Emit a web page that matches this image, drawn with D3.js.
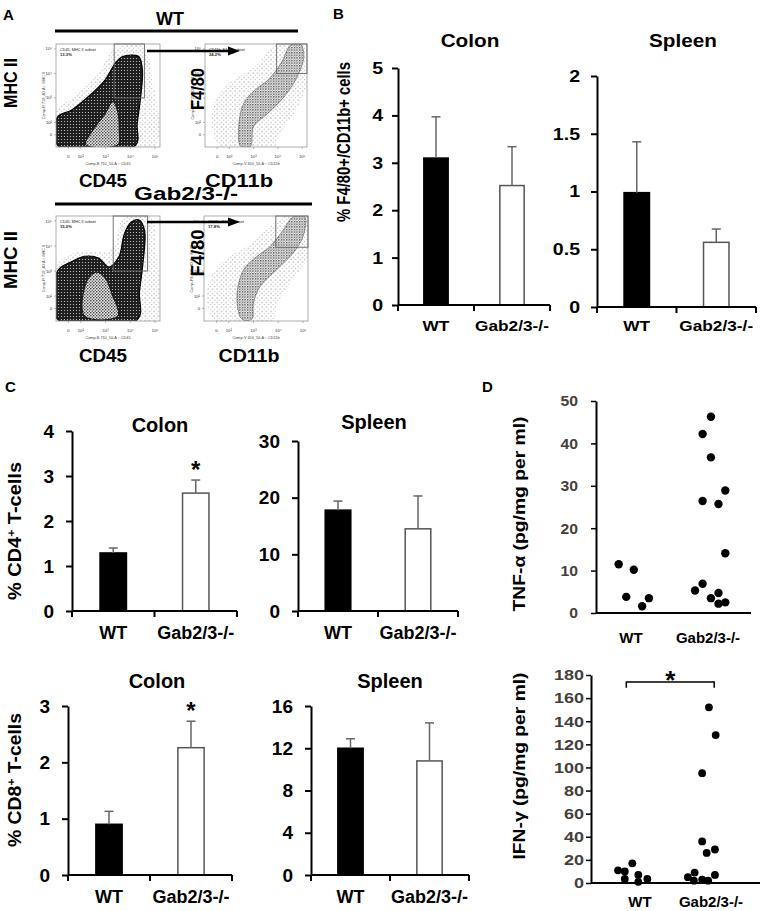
<!DOCTYPE html>
<html>
<head>
<meta charset="utf-8">
<script src="https://cdn.jsdelivr.net/npm/d3@7"></script>
<style>
  body { margin: 0; background: #fff; }
  text { font-family: "Liberation Sans", Arial, sans-serif; font-weight: bold; }
</style>
</head>
<body>
<svg id="chart" width="765" height="911"></svg>
<script>
// ================= data =================
var groups = ["WT", "Gab2/3-/-"];

// B : % F4/80+/CD11b+ cells (mean, error)
var f480ColonMean  = [3.10, 2.52];
var f480ColonErr   = [0.87, 0.82];
var f480ColonTicks = [0, 1, 2, 3, 4, 5];
var f480SpleenMean  = [0.99, 0.56];
var f480SpleenErr   = [0.44, 0.115];
var f480SpleenTicks = [0, 0.5, 1, 1.5, 2];

// C : % CD4+ / CD8+ T-cells
var cd4ColonMean  = [1.29, 2.62];
var cd4ColonErr   = [0.11, 0.29];
var cd4ColonTicks = [0, 1, 2, 3, 4];
var cd4SpleenMean  = [17.8, 14.5];
var cd4SpleenErr   = [1.6, 5.8];
var cd4SpleenTicks = [0, 10, 20, 30];
var cd8ColonMean  = [0.90, 2.26];
var cd8ColonErr   = [0.23, 0.47];
var cd8ColonTicks = [0, 1, 2, 3];
var cd8SpleenMean  = [12.0, 10.8];
var cd8SpleenErr   = [0.9, 3.6];
var cd8SpleenTicks = [0, 4, 8, 12, 16];

// D : cytokines, one dot per mouse (value, jitter position)
var tnfWT     = [11.5, 10.2, 3.8, 3.5, 1.6];
var tnfWTPos  = [0.80, 1.00, 0.90, 1.20, 1.11];
var tnfGab    = [46.3, 42.2, 36.7, 28.9, 26.4, 25.7, 14.1, 6.9, 5.3, 4.7, 3.5, 2.2, 2.5];
var tnfGabPos = [2.02, 1.91, 2.02, 2.21, 1.91, 2.12, 2.21, 1.91, 1.81, 2.12, 2.02, 2.12, 2.21];
var tnfTicks  = [0, 10, 20, 30, 40, 50];
var ifnWT     = [11, 10, 17, 7, 3.5, 1, 3.5];
var ifnWTPos  = [0.86, 0.95, 1.05, 1.13, 0.95, 1.13, 1.25];
var ifnGab    = [5, 9, 2, 3, 2, 7, 36, 26, 29, 152, 128, 95];
var ifnGabPos = [1.79, 1.88, 1.87, 1.98, 2.06, 2.15, 1.98, 2.04, 2.15, 2.07, 2.16, 1.98];
var ifnTicks  = [0, 20, 40, 60, 80, 100, 120, 140, 160, 180];
var ifnBracket = [0.97, 2.14];

// A : flow plots, outlines of the cell clouds in decade units
var flowTickVals  = [1.5, 2, 3, 4, 5];
var flowTickNames = ["0", "10\u00B2", "10\u00B3", "10\u2074", "10\u2075"];
var wtCd45Sparse = [[1.0,1.0],[1.0,2.5],[1.75,3.05],[2.71,4.0],[3.33,4.96],[4.49,5.16],[4.9,3.73],[4.97,1.0]];
var wtCd45Dense  = [[1.07,1.07],[1.07,2.23],[1.62,2.5],[2.3,3.05],[2.98,3.73],[3.39,4.41],[3.67,4.68],[4.08,4.75],[4.35,4.68],[4.49,4.14],[4.42,3.05],[4.28,1.95],[4.21,1.07]];
var wtCd45Hole   = [[2.2,1.1],[2.5,1.7],[2.95,2.3],[3.3,2.85],[3.5,2.4],[3.55,1.7],[3.5,1.1]];
var wtCd11bSparse = [[1.6,1.0],[1.33,2.65],[2.0,3.6],[3.07,4.28],[4.0,5.2],[5.2,5.2],[5.2,3.6],[4.67,2.38],[4.0,1.43],[3.87,1.0]];
var wtCd11bDense  = [[2.47,1.03],[2.4,1.98],[2.6,2.79],[3.07,3.33],[3.6,3.74],[4.13,4.41],[4.53,5.16],[4.93,5.2],[5.07,4.69],[4.8,3.87],[4.27,3.06],[3.6,2.38],[3.0,1.84],[2.87,1.03]];
var gabCd45Sparse = [[1.0,1.0],[1.0,3.16],[1.76,3.73],[3.27,3.88],[3.69,5.1],[4.79,5.17],[5.06,3.59],[5.06,1.0]];
var gabCd45Dense  = [[1.07,1.07],[1.07,3.01],[1.62,3.37],[2.17,3.59],[2.72,3.52],[3.13,3.16],[3.55,3.59],[3.75,4.45],[4.03,4.95],[4.37,5.03],[4.58,4.6],[4.51,3.3],[4.37,2.15],[4.3,1.07]];
var gabCd45Hole   = [[2.15,1.2],[2.25,2.6],[2.65,2.95],[3.0,2.7],[3.25,2.1],[3.5,1.2]];
var gabCd11bSparse = [[1.4,1.07],[1.13,2.26],[1.67,3.32],[2.73,3.98],[3.67,4.78],[4.2,5.17],[5.2,5.17],[5.2,3.58],[4.47,2.52],[3.93,1.6],[3.8,1.07]];
var gabCd11bDense  = [[2.53,1.07],[2.33,1.99],[2.6,3.05],[3.13,3.58],[3.67,3.98],[4.2,4.64],[4.6,5.17],[5.07,5.17],[5.0,4.38],[4.6,3.72],[3.93,3.05],[3.27,2.39],[3.0,1.73],[2.93,1.07]];
// gates: x0, x1, y0, y1
var wtCd45Gate  = [3.35, 4.57, 3.0, 5.2];
var wtCd11bGate = [3.95, 5.2, 4.0, 5.2];
var gabCd45Gate  = [3.31, 4.7, 3.0, 5.2];
var gabCd11bGate = [3.9, 5.2, 3.95, 5.2];

// ================= drawing =================
var svg = d3.select("#chart");
var barFrac = 0.32;

function addText(x, y, str, size, anchor) {
  return svg.append("text").attr("x", x).attr("y", y).text(str)
    .style("font-size", size + "px").style("text-anchor", anchor || "middle");
}
// rotated label, centred on (x,y), baseline at x
function addVText(x, y, str, size, len) {
  var t = svg.append("text").attr("transform", "translate(" + x + "," + y + ") rotate(-90)")
    .text(str).style("font-size", size + "px").style("text-anchor", "middle");
  if (len) t.attr("textLength", len).attr("lengthAdjust", "spacingAndGlyphs");
  return t;
}
function stretch(sel, k) {
  sel.each(function() {
    var w = this.getComputedTextLength();
    d3.select(this).attr("textLength", w * k).attr("lengthAdjust", "spacingAndGlyphs");
  });
}

// patterns for the flow clouds
var defs = svg.append("defs");
var pDense = defs.append("pattern").attr("id", "dense").attr("patternUnits", "userSpaceOnUse")
  .attr("width", 3).attr("height", 3);
pDense.append("rect").attr("width", 3).attr("height", 3).style("fill", "#1e1e1e");
pDense.append("circle").attr("cx", 1.5).attr("cy", 1.5).attr("r", 0.6).style("fill", "#cfcfcf");
var pMid = defs.append("pattern").attr("id", "mid").attr("patternUnits", "userSpaceOnUse")
  .attr("width", 3).attr("height", 3);
pMid.append("rect").attr("width", 3).attr("height", 3).style("fill", "#e8e8e8");
pMid.append("circle").attr("cx", 0.8).attr("cy", 0.8).attr("r", 0.8).style("fill", "#222");
pMid.append("circle").attr("cx", 2.3).attr("cy", 2.2).attr("r", 0.7).style("fill", "#444");
var pBand = defs.append("pattern").attr("id", "band").attr("patternUnits", "userSpaceOnUse")
  .attr("width", 2.6).attr("height", 2.6);
pBand.append("rect").attr("width", 2.6).attr("height", 2.6).style("fill", "#fff");
pBand.append("circle").attr("cx", 0.7).attr("cy", 0.7).attr("r", 0.75).style("fill", "#333");
pBand.append("circle").attr("cx", 2.0).attr("cy", 1.9).attr("r", 0.5).style("fill", "#666");
var pSparse = defs.append("pattern").attr("id", "sparse").attr("patternUnits", "userSpaceOnUse")
  .attr("width", 4.5).attr("height", 4.5);
pSparse.append("circle").attr("cx", 1).attr("cy", 1).attr("r", 0.5).style("fill", "#555");
pSparse.append("circle").attr("cx", 3.3).attr("cy", 3.1).attr("r", 0.45).style("fill", "#777");

// ---- panel A: flow plot ----
function drawFlow(id, box, sparse, dense, hole, gate, denseFill, gateName, gatePct, xName, yName) {
  var x = d3.scaleLinear().domain([1.0, 5.2]).range([box[0], box[1]]);
  var y = d3.scaleLinear().domain([1.0, 5.2]).range([box[3], box[2]]);
  var line = d3.line().x(function(d) { return x(d[0]); }).y(function(d) { return y(d[1]); })
    .curve(d3.curveCatmullRomClosed.alpha(0.5));
  defs.append("clipPath").attr("id", "clip" + id).append("rect")
    .attr("x", box[0]).attr("y", box[2]).attr("width", box[1] - box[0]).attr("height", box[3] - box[2]);
  var g = svg.append("g");
  g.append("rect").attr("x", box[0]).attr("y", box[2]).attr("width", box[1] - box[0])
    .attr("height", box[3] - box[2]).style("fill", "#fff");
  var c = g.append("g").attr("clip-path", "url(#clip" + id + ")");
  c.append("path").attr("d", line(sparse)).style("fill", "url(#sparse)");
  c.append("path").attr("d", line(dense)).style("fill", "url(#" + denseFill + ")")
    .style("stroke", denseFill == "dense" ? "#000" : "#444").style("stroke-width", denseFill == "dense" ? 1.2 : 0.5);
  if (hole) c.append("path").attr("d", line(hole)).style("fill", "url(#mid)")
    .style("stroke", "#111").style("stroke-width", 1);
  g.append("rect").attr("x", box[0]).attr("y", box[2]).attr("width", box[1] - box[0])
    .attr("height", box[3] - box[2]).style("fill", "none").style("stroke", "#999").style("stroke-width", 0.8);
  g.append("rect").attr("x", x(gate[0])).attr("y", y(gate[3]))
    .attr("width", x(gate[1]) - x(gate[0])).attr("height", y(gate[2]) - y(gate[3]))
    .style("fill", "none").style("stroke", "#666").style("stroke-width", 0.9);
  // tiny axis text
  flowTickVals.forEach(function(v, i) {
    g.append("text").attr("x", x(v)).attr("y", box[3] + 11).text(flowTickNames[i])
      .style("font-size", "4.2px").style("font-weight", "normal").style("fill", "#333").style("text-anchor", "middle");
    g.append("text").attr("x", box[0] - 4).attr("y", y(v) + 1.5).text(flowTickNames[i])
      .style("font-size", "4.2px").style("font-weight", "normal").style("fill", "#333").style("text-anchor", "end");
    g.append("line").attr("x1", x(v)).attr("x2", x(v)).attr("y1", box[3]).attr("y2", box[3] + 2)
      .style("stroke", "#777").style("stroke-width", 0.5);
    g.append("line").attr("x1", box[0] - 2).attr("x2", box[0]).attr("y1", y(v)).attr("y2", y(v))
      .style("stroke", "#777").style("stroke-width", 0.5);
  });
  g.append("text").attr("x", (box[0] + box[1]) / 2).attr("y", box[3] + 18).text(xName)
    .style("font-size", "3.8px").style("font-weight", "normal").style("fill", "#444").style("text-anchor", "middle");
  g.append("text").attr("transform", "translate(" + (box[0] - 11) + "," + ((box[2] + box[3]) / 2) + ") rotate(-90)")
    .text(yName).style("font-size", "3.8px").style("font-weight", "normal").style("fill", "#444").style("text-anchor", "middle");
  g.append("text").attr("x", box[0] + 4).attr("y", box[2] + 7).text(gateName)
    .style("font-size", "3.8px").style("font-weight", "normal").style("fill", "#222");
  g.append("text").attr("x", box[0] + 4).attr("y", box[2] + 12).text(gatePct)
    .style("font-size", "4.2px").style("fill", "#222");
}

function drawArrow(x1, x2, yy) {
  svg.append("line").attr("x1", x1).attr("x2", x2 - 9).attr("y1", yy).attr("y2", yy)
    .style("stroke", "#000").style("stroke-width", 2.5);
  svg.append("path").attr("d", "M" + x2 + "," + yy + " L" + (x2 - 12) + "," + (yy - 4.5) + " L" + (x2 - 12) + "," + (yy + 4.5) + " Z")
    .style("fill", "#000");
}

addText(3, 20, "A", 15, "start");
addText(170, 25, "WT", 18);
svg.append("line").attr("x1", 55).attr("x2", 298).attr("y1", 31).attr("y2", 31).style("stroke", "#000").style("stroke-width", 3);
drawFlow(1, [56, 160, 44, 147], wtCd45Sparse, wtCd45Dense, wtCd45Hole, wtCd45Gate, "dense",
  "CD45, MHC II subset", "13.3%", "Comp-B 710_50-A :: CD45", "Comp-R 710_40-A :: MHC II");
drawFlow(2, [205, 307, 44, 147], wtCd11bSparse, wtCd11bDense, null, wtCd11bGate, "band",
  "CD11b, F4-80 subset", "24.2%", "Comp-V 450_50-A :: CD11b", "Comp-PE 710_40-A :: F4-80");
drawArrow(147, 240, 51);
addVText(17, 83, "MHC II", 19, 50);
addVText(204, 89, "F4/80", 19, 42);
addText(103, 187, "CD45", 19).attr("textLength", 48).attr("lengthAdjust", "spacingAndGlyphs");
addText(239, 187, "CD11b", 19).attr("textLength", 68).attr("lengthAdjust", "spacingAndGlyphs");

addText(186, 200, "Gab2/3-/-", 19).attr("textLength", 104).attr("lengthAdjust", "spacingAndGlyphs");
svg.append("line").attr("x1", 55).attr("x2", 312).attr("y1", 204).attr("y2", 204).style("stroke", "#000").style("stroke-width", 3);
drawFlow(3, [56, 160, 216, 321], gabCd45Sparse, gabCd45Dense, gabCd45Hole, gabCd45Gate, "dense",
  "CD45, MHC II subset", "15.0%", "Comp-B 710_50-A :: CD45", "Comp-R 710_40-A :: MHC II");
drawFlow(4, [204, 308, 216, 321], gabCd11bSparse, gabCd11bDense, null, gabCd11bGate, "band",
  "CD11b, F4-80 subset", "17.8%", "Comp-V 450_50-A :: CD11b", "Comp-PE 710_40-A :: F4-80");
drawArrow(147, 240, 222);
addVText(17, 260, "MHC II", 19, 58);
addVText(204, 253, "F4/80", 19, 47);
addText(103, 362, "CD45", 19).attr("textLength", 48).attr("lengthAdjust", "spacingAndGlyphs");
addText(249, 362, "CD11b", 19).attr("textLength", 61).attr("lengthAdjust", "spacingAndGlyphs");

// ---- bar charts (B, C) ----
function drawBars(c) {
  var x = d3.scaleBand().domain(groups).range([c.left, c.right]);
  var y = d3.scaleLinear().domain([0, d3.max(c.ticks)]).range([c.bottom, c.top]);
  var bw = x.bandwidth() * barFrac;
  var g = svg.append("g");
  g.selectAll(".bar").data(c.mean).enter().append("rect")
    .attr("x", function(d, i) { return x(groups[i]) + (x.bandwidth() - bw) / 2; })
    .attr("y", function(d) { return y(d); })
    .attr("width", bw)
    .attr("height", function(d) { return c.bottom - y(d); })
    .style("fill", function(d, i) { return i == 0 ? "#000" : "#fff"; })
    .style("stroke", function(d, i) { return i == 0 ? "#000" : "#555"; })
    .style("stroke-width", 1.5);
  // error bars
  c.mean.forEach(function(m, i) {
    var cx = x(groups[i]) + x.bandwidth() / 2;
    g.append("line").attr("x1", cx).attr("x2", cx).attr("y1", y(m)).attr("y2", y(m + c.err[i]))
      .style("stroke", "#666").style("stroke-width", 1.5);
    g.append("line").attr("x1", cx - 4.5).attr("x2", cx + 4.5).attr("y1", y(m + c.err[i])).attr("y2", y(m + c.err[i]))
      .style("stroke", "#666").style("stroke-width", 1.5);
  });
  // y axis
  var ya = g.append("g").attr("transform", "translate(" + c.left + ",0)")
    .call(d3.axisLeft(y).tickValues(c.ticks).tickSize(6).tickSizeOuter(0).tickPadding(c.pad)
      .tickFormat(function(d) { return String(d); }));
  ya.select(".domain").style("stroke-width", 2);
  ya.selectAll(".tick line").style("stroke-width", 2);
  ya.selectAll("text").style("font-size", c.ksize + "px").style("font-family", "'Liberation Sans', Arial, sans-serif")
    .style("font-weight", "bold").style("fill", "#000");
  if (c.k != 1) stretch(ya.selectAll("text"), c.k);
  // x axis with ticks at the group boundaries
  g.append("line").attr("x1", c.left).attr("x2", c.right).attr("y1", c.bottom).attr("y2", c.bottom)
    .style("stroke", "#000").style("stroke-width", 2);
  [c.left, x(groups[1]), c.right].forEach(function(xx) {
    g.append("line").attr("x1", xx).attr("x2", xx).attr("y1", c.bottom).attr("y2", c.bottom + 6)
      .style("stroke", "#000").style("stroke-width", 2);
  });
  groups.forEach(function(name, i) {
    var t = addText(x(name) + x.bandwidth() / 2, c.ly, name, c.lsize);
    if (c.k != 1) stretch(t, c.k);
  });
  var tt = addText(c.tx, c.ty, c.title, c.tsize);
  if (c.k != 1) stretch(tt, c.k);
  if (c.starY) addText(x(groups[1]) + x.bandwidth() / 2, c.starY, "*", 24);
}

var barPanels = [
  {mean: f480ColonMean, err: f480ColonErr, ticks: f480ColonTicks, title: "Colon",
   left: 398, right: 550, top: 68, bottom: 305, tx: 470, ty: 47, tsize: 18, ksize: 17, pad: 9, lsize: 15, ly: 331, k: 1.15},
  {mean: f480SpleenMean, err: f480SpleenErr, ticks: f480SpleenTicks, title: "Spleen",
   left: 597, right: 756, top: 76, bottom: 307, tx: 683, ty: 47, tsize: 18, ksize: 17, pad: 11, lsize: 15, ly: 331, k: 1.15},
  {mean: cd4ColonMean, err: cd4ColonErr, ticks: cd4ColonTicks, title: "Colon",
   left: 72, right: 237, top: 431, bottom: 611, tx: 160, ty: 432, tsize: 20, ksize: 19, pad: 12, lsize: 18, ly: 639, k: 1, starY: 478},
  {mean: cd4SpleenMean, err: cd4SpleenErr, ticks: cd4SpleenTicks, title: "Spleen",
   left: 298, right: 458, top: 441, bottom: 611, tx: 374, ty: 429, tsize: 20, ksize: 19, pad: 12, lsize: 18, ly: 639, k: 1},
  {mean: cd8ColonMean, err: cd8ColonErr, ticks: cd8ColonTicks, title: "Colon",
   left: 68, right: 232, top: 706, bottom: 875, tx: 157, ty: 688, tsize: 20, ksize: 19, pad: 12, lsize: 18, ly: 903, k: 1, starY: 719},
  {mean: cd8SpleenMean, err: cd8SpleenErr, ticks: cd8SpleenTicks, title: "Spleen",
   left: 311, right: 469, top: 706, bottom: 875, tx: 390, ty: 688, tsize: 20, ksize: 19, pad: 12, lsize: 18, ly: 903, k: 1}
];
barPanels.forEach(drawBars);

addText(333, 19, "B", 15, "start");
addVText(350, 142, "% F4/80+/CD11b+ cells", 18, 160);
addText(5, 392, "C", 15, "start");
var cd4Lab = addVText(21, 531, "", 18, null);
cd4Lab.append("tspan").text("% CD4");
cd4Lab.append("tspan").text("+").attr("dy", -6).style("font-size", "11px");
cd4Lab.append("tspan").text(" T-cells").attr("dy", 6);
cd4Lab.attr("textLength", 138).attr("lengthAdjust", "spacingAndGlyphs");
var cd8Lab = addVText(21, 780, "", 18, null);
cd8Lab.append("tspan").text("% CD8");
cd8Lab.append("tspan").text("+").attr("dy", -6).style("font-size", "11px");
cd8Lab.append("tspan").text(" T-cells").attr("dy", 6);
cd8Lab.attr("textLength", 134).attr("lengthAdjust", "spacingAndGlyphs");

// ---- panel D : dot plots ----
function drawDots(c) {
  var x = d3.scaleLinear().domain([0.5, c.xmax]).range([c.left, c.right]);
  var y = d3.scaleLinear().domain([0, d3.max(c.ticks)]).range([c.bottom, c.top]);
  var g = svg.append("g");
  var ya = g.append("g").attr("transform", "translate(" + c.left + ",0)")
    .call(d3.axisLeft(y).tickValues(c.ticks).tickSize(5).tickSizeOuter(0).tickPadding(c.pad));
  ya.select(".domain").style("stroke-width", 2);
  ya.selectAll(".tick line").style("stroke-width", 1.5);
  ya.selectAll("text").style("font-size", c.ksize + "px").style("font-family", "'Liberation Sans', Arial, sans-serif")
    .style("font-weight", "bold").style("fill", "#45403c");
  if (c.k != 1) stretch(ya.selectAll("text"), c.k);
  g.append("line").attr("x1", c.left).attr("x2", c.right).attr("y1", c.bottom).attr("y2", c.bottom)
    .style("stroke", "#000").style("stroke-width", 2);
  var pts = c.wt.map(function(v, i) { return [c.wtPos[i], v]; })
    .concat(c.gab.map(function(v, i) { return [c.gabPos[i], v]; }));
  g.selectAll(".dot").data(pts).enter().append("circle")
    .attr("cx", function(d) { return x(d[0]); })
    .attr("cy", function(d) { return y(d[1]); })
    .attr("r", c.r).style("fill", "#000");
  addText(c.lx[0], c.ly, groups[0], 15);
  addText(c.lx[1], c.ly, groups[1], 15);
  if (c.bracket) {
    var b0 = x(c.bracket[0]), b1 = x(c.bracket[1]);
    g.append("path").attr("d", "M" + b0 + "," + y(169) + " V" + y(174) + " H" + b1 + " V" + y(169))
      .style("fill", "none").style("stroke", "#000").style("stroke-width", 1.5);
    addText((b0 + b1) / 2, c.starY, "*", 26);
  }
}

drawDots({wt: tnfWT, wtPos: tnfWTPos, gab: tnfGab, gabPos: tnfGabPos, ticks: tnfTicks,
  left: 596, right: 751, top: 401, bottom: 613, xmax: 2.55, r: 4.2, ksize: 15, pad: 13, k: 1.05,
  lx: [631, 708], ly: 643});
drawDots({wt: ifnWT, wtPos: ifnWTPos, gab: ifnGab, gabPos: ifnGabPos, ticks: ifnTicks,
  left: 591, right: 760, top: 675, bottom: 883, xmax: 2.75, r: 3.9, ksize: 15, pad: 2, k: 1.2,
  lx: [640, 711], ly: 907, bracket: ifnBracket, starY: 689});

addText(482, 392, "D", 15, "start");
addVText(525, 514, "TNF-\u03B1 (pg/mg per ml)", 17, 195);
addVText(525, 766, "IFN-\u03B3 (pg/mg per ml)", 17, 187);
</script>
</body>
</html>
